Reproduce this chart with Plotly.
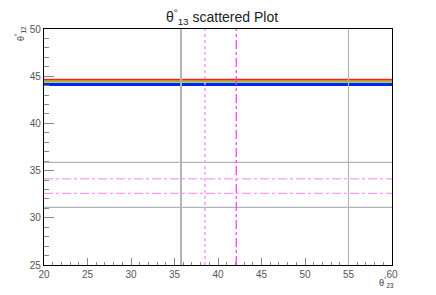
import plotly.graph_objects as go

# ---- data ----
theta23_span = [20, 60]                       # x extent of the scattered bands
band_names = ["blue", "green", "orange", "red"]
band_theta12 = [44.12, 44.39, 44.51, 44.64]   # y level of each band
band_colors = ["#0022ff", "#00cc00", "#ffaa00", "#ff2020"]
band_widths = [3.0, 1.3, 1.0, 1.7]

grey_v = [35.75, 55.0]      # vertical grey reference lines (theta23)
grey_h = [35.88, 31.10]     # horizontal grey reference lines (theta12)
mag_v = [38.5, 42.1]        # vertical magenta lines
mag_h = [34.14, 32.59]      # horizontal magenta lines

fig = go.Figure()
for name, yv, c, w in zip(band_names, band_theta12, band_colors, band_widths):
    fig.add_trace(go.Scatter(x=theta23_span, y=[yv, yv], mode="lines",
                             line=dict(color=c, width=w), name=name,
                             showlegend=False, hoverinfo="skip"))

shapes = []
for i, xv in enumerate(grey_v):
    shapes.append(dict(type="line", xref="x", yref="paper", x0=xv, x1=xv, y0=0, y1=1,
                       line=dict(color="#b4b4b4", width=2 if i == 0 else 1.2), layer="above"))
for yv in grey_h:
    shapes.append(dict(type="line", xref="paper", yref="y", x0=0, x1=1, y0=yv, y1=yv,
                       line=dict(color="#b4b4b4", width=1.2), layer="above"))
shapes.append(dict(type="line", xref="x", yref="paper", x0=mag_v[0], x1=mag_v[0], y0=0, y1=1,
                   line=dict(color="#ff99ff", width=1.5, dash="dot"), layer="above"))
shapes.append(dict(type="line", xref="x", yref="paper", x0=mag_v[1], x1=mag_v[1], y0=0, y1=1,
                   line=dict(color="#ff33ff", width=1.2, dash="dashdot"), layer="above"))
shapes.append(dict(type="line", xref="paper", yref="y", x0=0, x1=1, y0=mag_h[0], y1=mag_h[0],
                   line=dict(color="#ffa8ff", width=1.5, dash="dashdot"), layer="above"))
shapes.append(dict(type="line", xref="paper", yref="y", x0=0, x1=1, y0=mag_h[1], y1=mag_h[1],
                   line=dict(color="#ff99ff", width=1.1, dash="dashdot"), layer="above"))

font_fam = "Liberation Sans, Arial, sans-serif"
axis_common = dict(showgrid=False, zeroline=False, showline=True, linecolor="black",
                   linewidth=1.3, mirror=True, ticks="inside", tickcolor="#888888",
                   tickwidth=1.3, tickfont=dict(size=10, color="#555555", family=font_fam))

fig.update_layout(
    width=428, height=287,
    margin=dict(l=36, r=44, t=21, b=30),
    paper_bgcolor="white", plot_bgcolor="white",
    shapes=shapes,
    title=dict(text="θ<sup>°</sup><sub>13</sub> scattered Plot", x=0.5, xanchor="center",
               y=1 - 9 / 287, yanchor="middle", yref="container",
               font=dict(size=14, color="#222222", family=font_fam)),
    xaxis=dict(range=[20, 60], tick0=20, dtick=5, ticklen=7,
               minor=dict(dtick=1, ticklen=3, ticks="inside", tickcolor="#888888"),
               **axis_common),
    yaxis=dict(range=[25, 50], tick0=25, dtick=5, ticklen=10,
               minor=dict(dtick=1, ticklen=5, ticks="inside", tickcolor="#888888"),
               **axis_common),
    annotations=[
        dict(text="θ<sup>°</sup><sub>12</sub>", xref="paper", yref="paper", x=-0.066, y=0.979,
             xanchor="center", yanchor="middle", textangle=-90, showarrow=False,
             font=dict(size=9, color="#333333", family=font_fam)),
        dict(text="θ<sup>°</sup><sub>23</sub>", xref="paper", yref="paper", x=0.983, y=-0.076,
             xanchor="center", yanchor="middle", showarrow=False,
             font=dict(size=9, color="#333333", family=font_fam)),
    ],
)

fig.write_html("out.html")
